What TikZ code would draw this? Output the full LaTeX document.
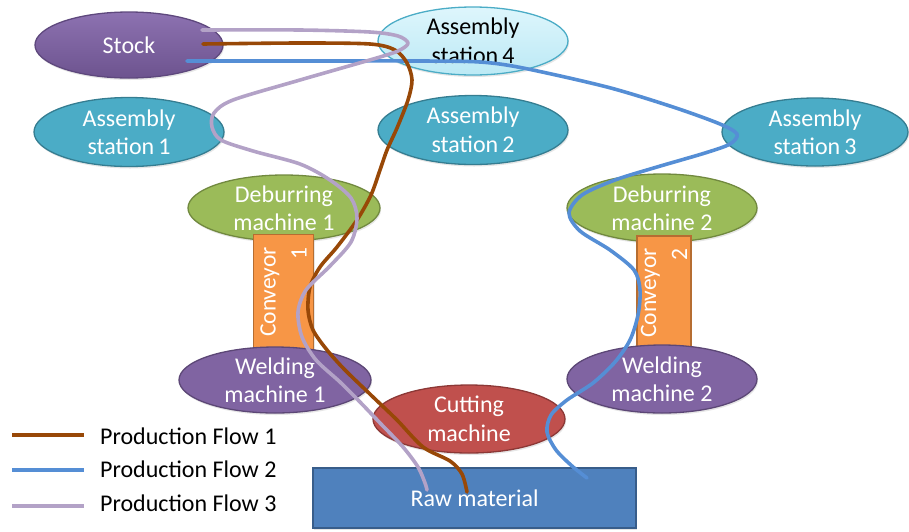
\documentclass[tikz,border=0pt]{standalone}
\usepackage{fontspec}
\setmainfont{Carlito}
\usetikzlibrary{shapes.geometric,shadows}
\definecolor{stockfill}{RGB}{128,98,168}
\definecolor{stockdraw}{RGB}{94,72,125}
\definecolor{as4fill}{RGB}{200,240,250}
\definecolor{as4draw}{RGB}{75,172,198}
\definecolor{asfill}{RGB}{75,172,198}
\definecolor{asdraw}{RGB}{53,125,145}
\definecolor{debfill}{RGB}{155,187,89}
\definecolor{debdraw}{RGB}{113,137,63}
\definecolor{weldfill}{RGB}{128,100,162}
\definecolor{welddraw}{RGB}{92,71,118}
\definecolor{cutfill}{RGB}{192,80,77}
\definecolor{cutdraw}{RGB}{140,56,54}
\definecolor{convfill}{RGB}{247,150,70}
\definecolor{convdraw}{RGB}{182,109,49}
\definecolor{rawfill}{RGB}{79,129,189}
\definecolor{rawdraw}{RGB}{56,93,138}
\definecolor{flowA}{RGB}{152,72,7}
\definecolor{flowB}{RGB}{85,142,213}
\definecolor{flowC}{RGB}{179,162,199}
\begin{document}
\begin{tikzpicture}[x=1pt,y=-1pt,
  elli/.style={ellipse, inner sep=0pt, line width=1.3pt,
     drop shadow={opacity=0.2, shadow xshift=1pt, shadow yshift=-2pt}},
  boxy/.style={rectangle, inner sep=0pt, line width=1.3pt,
     drop shadow={opacity=0.2, shadow xshift=1pt, shadow yshift=-2pt}},
  lbl/.style={text=white, align=center, font=\fontsize{24}{28.5}\selectfont, inner sep=0pt},
  convlbl/.style={text=white, align=right, rotate=90, font=\fontsize{23.5}{31}\selectfont, inner sep=0pt},
  leg/.style={text=black, anchor=west, font=\fontsize{24}{28}\selectfont, inner sep=0pt},
  flow/.style={line width=3.6pt, line cap=round, line join=round},
  legline/.style={line width=4.5pt}
]
\useasboundingbox (0,0) rectangle (909,531);

% ellipses
\node[elli, draw=stockdraw, top color=stockfill!90!white, bottom color=stockfill!85!black,
  minimum width=188, minimum height=66] (stock) at (129,45) {};
\node[lbl] at (stock) {Stock};

\node[elli, draw=as4draw, top color=as4fill!60!white, bottom color=as4fill!90!asfill,
  minimum width=190, minimum height=68] (as4) at (473,41) {};
\node[lbl, text=black] at (as4) {Assembly\\station\,4};

\node[elli, draw=asdraw, fill=asfill, minimum width=190, minimum height=69] (as1) at (129,132) {};
\node[lbl] at (as1) {Assembly\\station\,1};
\node[elli, draw=asdraw, fill=asfill, minimum width=190, minimum height=69] (as2) at (473,130) {};
\node[lbl] at (as2) {Assembly\\station\,2};
\node[elli, draw=asdraw, fill=asfill, minimum width=186, minimum height=68] (as3) at (815,132) {};
\node[lbl] at (as3) {Assembly\\station\,3};

\node[elli, draw=debdraw, fill=debfill, minimum width=192, minimum height=66] (deb1) at (284,208) {};
\node[lbl] at (deb1) {Deburring\\machine 1};
\node[elli, draw=debdraw, fill=debfill, minimum width=190, minimum height=68] (deb2) at (662,208) {};
\node[lbl] at (deb2) {Deburring\\machine 2};

% conveyors
\node[boxy, draw=convdraw, fill=convfill, minimum width=60, minimum height=115] (conv1) at (283.5,292) {};
\node[convlbl] at (conv1) {Conveyor\\1};
\node[boxy, draw=convdraw, fill=convfill, minimum width=54, minimum height=114] (conv2) at (664,293) {};
\node[convlbl] at (conv2) {Conveyor\\2};

\node[elli, draw=welddraw, fill=weldfill, minimum width=192, minimum height=66] (weld1) at (275,380) {};
\node[lbl] at (weld1) {Welding\\machine 1};
\node[elli, draw=welddraw, fill=weldfill, minimum width=190, minimum height=68] (weld2) at (662,379) {};
\node[lbl] at (weld2) {Welding\\machine 2};

\node[elli, draw=cutdraw, fill=cutfill, minimum width=192, minimum height=68] (cut) at (469,419) {};
\node[lbl] at (cut) {Cutting\\machine};

\node[boxy, draw=rawdraw, fill=rawfill, minimum width=323, minimum height=60] (raw) at (474.5,498) {};
\node[lbl] at (raw) {Raw material};

% flow end points
\coordinate (fAs) at (203,44);
\coordinate (fAe) at (467,492);
\coordinate (fBs) at (187,61);
\coordinate (fBe) at (587,478);
\coordinate (fCs) at (202,30);
\coordinate (fCe) at (427,490);

% Production flow 2 (blue)
\draw[flow, flowB] plot[smooth, tension=0.5] coordinates {
 (fBs) (300,61) (420,61) (480,62) (523,68) (607,87) (673,107) (720,124) (737,134)
 (730,144) (705,153) (657,167) (615,180) (582,195) (569,213) (580,231) (610,250)
 (634,270) (640,290) (638,315) (630,340) (615,362) (593,383) (567,400) (551,415)
 (547,432) (556,450) (572,466) (fBe)};

% Production flow 1 (brown)
\draw[flow, flowA] plot[smooth, tension=0.5] coordinates {
 (fAs) (300,43) (370,44) (395,50) (407,63) (412,80) (408,100) (397,128) (387,150)
 (380,170) (371,195) (357,220) (337,247) (320,267) (310,287) (308,310) (313,330)
 (327,350) (345,370) (373,397) (397,420) (423,447) (450,461) (462,474) (fAe)};

% Production flow 3 (lavender)
\draw[flow, flowC] plot[smooth, tension=0.5] coordinates {
 (fCs) (300,30) (370,32) (398,36) (408,43) (400,50) (380,57) (300,80) (233,100)
 (214,113) (212,127) (221,140) (253,151) (300,164) (330,180) (351,198) (357,218)
 (351,242) (330,266) (306,290) (298,312) (302,337) (316,360) (340,382) (360,402)
 (381,424) (403,447) (418,467) (425,483) (fCe)};

% legend
\coordinate (lA1) at (12,435); \coordinate (lA2) at (84,435);
\coordinate (lB1) at (12,470); \coordinate (lB2) at (84,470);
\coordinate (lC1) at (12,506); \coordinate (lC2) at (84,506);
\draw[legline, flowA] (lA1) -- (lA2);
\draw[legline, flowB] (lB1) -- (lB2);
\draw[legline, flowC] (lC1) -- (lC2);
\node[leg] (tA) at (100,436) {Production Flow 1};
\node[leg] (tB) at (100,469) {Production Flow 2};
\node[leg] (tC) at (100,503) {Production Flow 3};
\end{tikzpicture}
\end{document}
